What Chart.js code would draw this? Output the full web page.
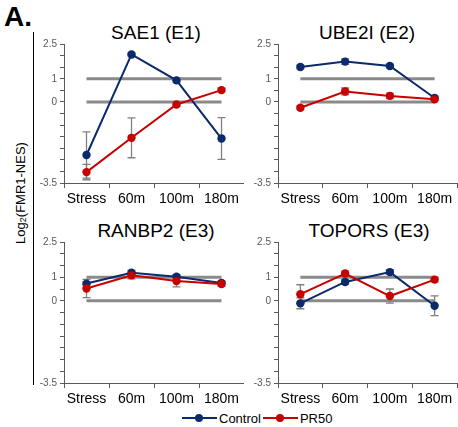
<!DOCTYPE html>
<html>
<head>
<meta charset="utf-8">
<script src="https://cdn.jsdelivr.net/npm/chart.js@4.4.1/dist/chart.umd.min.js"></script>
<style>
  html, body { margin: 0; padding: 0; background: #fff; }
  body { width: 458px; height: 427px; position: relative; overflow: hidden;
         font-family: 'Liberation Sans', Arial, sans-serif; }
  canvas { position: absolute; }
  .title { position: absolute; width: 200px; text-align: center; font-size: 19px; color: #000; }
  #panel-label { position: absolute; left: 4px; top: 1px; font-size: 28px; font-weight: bold; }
  #y-title { position: absolute; left: 20px; top: 193px; font-size: 13px; white-space: nowrap;
             transform: translate(-50%, -50%) rotate(-90deg); }
  #y-title sub { font-size: 9px; vertical-align: -1px; }
  #y-rule { position: absolute; left: 32.5px; top: 32px; width: 1.5px; height: 353px; background: #000; }
  #legend { position: absolute; top: 409px; left: 182px; font-size: 13px; display: flex; align-items: center; }
  .key { display: inline-block; position: relative; width: 35px; height: 18px; margin-right: 2px; }
  .key::before { content: ''; position: absolute; left: 0; right: 0; top: 8px; height: 2px; background: var(--c); }
  .key::after { content: ''; position: absolute; left: 13px; top: 5px; width: 8px; height: 8px;
                border-radius: 50%; background: var(--c); }
</style>
</head>
<body>
<div id="panel-label">A.</div>
<div id="y-title">Log<sub>2</sub>(FMR1-NES)</div>
<div id="y-rule"></div>

<div class="title" style="left:56px; top:22px;">SAE1 (E1)</div>
<div class="title" style="left:267px; top:22px;">UBE2I (E2)</div>
<div class="title" style="left:56px; top:220px;">RANBP2 (E3)</div>
<div class="title" style="left:269px; top:220px;">TOPORS (E3)</div>

<canvas id="c1" width="214" height="173" style="left:30px; top:35px;"></canvas>
<canvas id="c2" width="214" height="173" style="left:244px; top:35px;"></canvas>
<canvas id="c3" width="214" height="175" style="left:30px; top:233px;"></canvas>
<canvas id="c4" width="214" height="175" style="left:244px; top:233px;"></canvas>

<div id="legend">
  <span class="key" style="--c:#0b2a6b"></span><span style="margin-right:2px">Control</span>
  <span class="key" style="--c:#c80000"></span><span>PR50</span>
</div>

<script>
const timepoints = ['Stress', '60m', '100m', '180m'];
const labeledTicks = [2.5, 1, 0, -3.5];
const refLineOne = [1, 1, 1, 1];
const refLineZero = [0, 0, 0, 0];

// SAE1 (E1)
const sae1Control = [-2.29, 2.05, 0.93, -1.58];
const sae1ControlErr = [1.0, 0.06, 0.08, 0.9];
const sae1Pr50 = [-3.03, -1.55, -0.11, 0.51];
const sae1Pr50Err = [0.33, 0.86, 0.08, 0.08];

// UBE2I (E2)
const ube2iControl = [1.51, 1.74, 1.55, 0.17];
const ube2iControlErr = [0.08, 0.12, 0.08, 0.08];
const ube2iPr50 = [-0.25, 0.45, 0.26, 0.11];
const ube2iPr50Err = [0.08, 0.15, 0.12, 0.05];

// RANBP2 (E3)
const ranbp2Control = [0.73, 1.19, 1.02, 0.76];
const ranbp2ControlErr = [0.08, 0.1, 0.08, 0.08];
const ranbp2Pr50 = [0.52, 1.08, 0.84, 0.71];
const ranbp2Pr50Err = [0.39, 0.15, 0.25, 0.1];

// TOPORS (E3)
const toporsControl = [-0.11, 0.80, 1.22, -0.21];
const toporsControlErr = [0.23, 0.1, 0.1, 0.42];
const toporsPr50 = [0.28, 1.16, 0.2, 0.90];
const toporsPr50Err = [0.4, 0.1, 0.3, 0.1];

const CONTROL_COLOR = '#0b2a6b';
const PR50_COLOR = '#c80000';
const REF_COLOR = '#8a8a8a';
const AXIS_COLOR = '#595959';

Chart.defaults.font.family = "'Liberation Sans', Arial, sans-serif";

/** Vertical error bars with caps, drawn under the points. */
const errorBarPlugin = {
    id: 'errorBars',
    beforeDatasetsDraw(chart) {
        const { ctx, scales: { y } } = chart;
        ctx.save();
        ctx.strokeStyle = '#808080';
        ctx.lineWidth = 1.3;
        chart.data.datasets.forEach((ds, i) => {
            if (!ds.errorBars) return;
            chart.getDatasetMeta(i).data.forEach((pt, j) => {
                const v = ds.data[j];
                const e = ds.errorBars[j];
                const top = y.getPixelForValue(v + e);
                const bottom = y.getPixelForValue(v - e);
                ctx.beginPath();
                ctx.moveTo(pt.x, top);
                ctx.lineTo(pt.x, bottom);
                ctx.moveTo(pt.x - 4, top);
                ctx.lineTo(pt.x + 4, top);
                ctx.moveTo(pt.x - 4, bottom);
                ctx.lineTo(pt.x + 4, bottom);
                ctx.stroke();
            });
        });
        ctx.restore();
    },
};

function refLine(data) {
    return {
        data,
        borderColor: REF_COLOR,
        borderWidth: 3,
        pointRadius: 0,
        order: 5,
    };
}

function seriesLine(label, data, errors, color, order) {
    return {
        label,
        data,
        errorBars: errors,
        borderColor: color,
        backgroundColor: color,
        borderWidth: 2,
        pointRadius: 4.2,
        pointBorderWidth: 0,
        order,
    };
}

function makePanel(id, control, controlErr, pr50, pr50Err, padRight) {
    new Chart(document.getElementById(id), {
        type: 'line',
        data: {
            labels: timepoints,
            datasets: [
                refLine(refLineOne),
                refLine(refLineZero),
                seriesLine('Control', control, controlErr, CONTROL_COLOR, 1),
                seriesLine('PR50', pr50, pr50Err, PR50_COLOR, 0),
            ],
        },
        options: {
            responsive: false,
            animation: false,
            layout: { autoPadding: false, padding: { top: 6, right: padRight, left: 0, bottom: 0 } },
            plugins: { legend: { display: false }, tooltip: { enabled: false } },
            scales: {
                x: {
                    offset: true,
                    grid: { offset: true, drawOnChartArea: false, tickLength: 5, color: AXIS_COLOR },
                    border: { color: AXIS_COLOR },
                    ticks: { color: '#000', font: { size: 14 }, padding: 3, maxRotation: 0, autoSkip: false },
                    afterFit: (scale) => { scale.height = 25; },
                },
                y: {
                    min: -3.5,
                    max: 2.5,
                    grid: { drawOnChartArea: false, tickLength: 4, color: AXIS_COLOR },
                    border: { color: AXIS_COLOR },
                    ticks: {
                        stepSize: 0.5,
                        maxTicksLimit: 20,
                        autoSkip: false,
                        color: '#595959',
                        font: { size: 10 },
                        padding: 3,
                        callback: (v) => {
                            const hit = labeledTicks.find((t) => Math.abs(t - v) < 1e-6);
                            return hit === undefined ? '' : String(hit);
                        },
                    },
                    afterFit: (scale) => { scale.width = 34; },
                },
            },
        },
        plugins: [errorBarPlugin],
    });
}

makePanel('c1', sae1Control, sae1ControlErr, sae1Pr50, sae1Pr50Err, 0);
makePanel('c2', ube2iControl, ube2iControlErr, ube2iPr50, ube2iPr50Err, 1);
makePanel('c3', ranbp2Control, ranbp2ControlErr, ranbp2Pr50, ranbp2Pr50Err, 0);
makePanel('c4', toporsControl, toporsControlErr, toporsPr50, toporsPr50Err, 1);
</script>
</body>
</html>
